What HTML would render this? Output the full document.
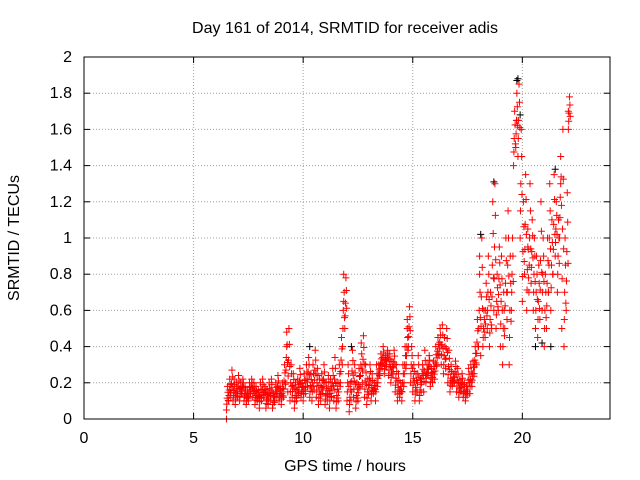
<!DOCTYPE html>
<html><head><meta charset="utf-8"><style>
html,body{margin:0;padding:0;background:#fff;}
svg{display:block;font-family:"Liberation Sans",Arial,sans-serif;font-size:16px;}
</style></head><body>
<svg id="chart" width="640" height="480" viewBox="0 0 640 480">
<rect x="0" y="0" width="640" height="480" fill="#fff"/>
<text x="345" y="33" text-anchor="middle" fill="#000">Day 161 of 2014, SRMTID for receiver adis</text>
<text x="345" y="471" text-anchor="middle" fill="#000">GPS time / hours</text>
<text x="0" y="0" transform="translate(19,238) rotate(-90)" text-anchor="middle" fill="#000">SRMTID / TECUs</text>
<g id="grid"></g>
<g id="ticks"></g>
<g id="marks"></g>
<rect x="84" y="57" width="526" height="362" fill="none" stroke="#000" stroke-width="1"/>
</svg>
<script>
const xTicks=[0,5,10,15,20];
const yTicks=[0,0.2,0.4,0.6,0.8,1,1.2,1.4,1.6,1.8,2];
const yTickLabels=["0","0.2","0.4","0.6","0.8","1","1.2","1.4","1.6","1.8","2"];
const times=[6.5,6.6,6.7,6.8,6.9,7.0,7.1,7.2,7.3,7.4,7.5,7.6,7.7,7.8,7.9,8.0,8.1,8.2,8.3,8.4,8.5,8.6,8.7,8.8,8.9,9.0,9.1,9.2,9.3,9.4,9.5,9.6,9.7,9.8,9.9,10.0,10.1,10.2,10.3,10.4,10.5,10.6,10.7,10.8,10.9,11.0,11.1,11.2,11.3,11.4,11.5,11.6,11.7,11.8,11.9,12.0,12.1,12.2,12.3,12.4,12.5,12.6,12.7,12.8,12.9,13.0,13.1,13.2,13.3,13.4,13.5,13.6,13.7,13.8,13.9,14.0,14.1,14.2,14.3,14.4,14.5,14.6,14.7,14.8,14.9,15.0,15.1,15.2,15.3,15.4,15.5,15.6,15.7,15.8,15.9,16.0,16.1,16.2,16.3,16.4,16.5,16.6,16.7,16.8,16.9,17.0,17.1,17.2,17.3,17.4,17.5,17.6,17.7,17.8,17.9,18.0,18.1,18.2,18.3,18.4,18.5,18.6,18.7,18.8,18.9,19.0,19.1,19.2,19.3,19.4,19.5,19.6,19.7,19.8,19.9,20.0,20.1,20.2,20.3,20.4,20.5,20.6,20.7,20.8,20.9,21.0,21.1,21.2,21.3,21.4,21.5,21.6,21.7,21.8,21.9,22.0,22.1];
const lowVals=[0.05,0.1,0.12,0.1,0.08,0.12,0.1,0.14,0.1,0.08,0.1,0.14,0.12,0.08,0.1,0.06,0.1,0.12,0.06,0.08,0.1,0.06,0.1,0.12,0.1,0.08,0.12,0.2,0.15,0.1,0.12,0.06,0.1,0.14,0.12,0.1,0.14,0.18,0.12,0.1,0.16,0.12,0.08,0.1,0.14,0.08,0.1,0.06,0.12,0.1,0.06,0.1,0.2,0.4,0.5,0.1,0.04,0.15,0.12,0.06,0.1,0.18,0.2,0.12,0.08,0.15,0.1,0.14,0.1,0.2,0.25,0.28,0.25,0.3,0.24,0.2,0.25,0.15,0.1,0.12,0.1,0.2,0.3,0.4,0.2,0.15,0.1,0.15,0.1,0.2,0.15,0.2,0.25,0.18,0.2,0.22,0.3,0.35,0.3,0.25,0.28,0.2,0.15,0.18,0.2,0.15,0.12,0.15,0.12,0.1,0.15,0.14,0.18,0.25,0.3,0.4,0.35,0.4,0.45,0.5,0.4,0.5,0.6,0.5,0.6,0.4,0.3,0.5,0.55,0.3,0.6,1.4,1.5,1.45,1.0,0.65,0.8,0.6,0.7,0.75,0.6,0.5,0.45,0.55,0.6,0.4,0.5,0.7,0.6,0.8,0.9,0.7,1.0,0.5,0.4,0.6,1.6];
const highVals=[0.18,0.22,0.27,0.22,0.2,0.24,0.2,0.22,0.18,0.16,0.2,0.22,0.2,0.18,0.16,0.2,0.22,0.18,0.16,0.2,0.22,0.14,0.2,0.24,0.18,0.2,0.3,0.48,0.5,0.3,0.25,0.2,0.22,0.28,0.2,0.25,0.3,0.34,0.25,0.3,0.38,0.28,0.22,0.25,0.3,0.2,0.24,0.22,0.28,0.34,0.2,0.3,0.45,0.8,0.78,0.3,0.2,0.38,0.3,0.2,0.28,0.42,0.46,0.3,0.22,0.3,0.25,0.2,0.3,0.3,0.36,0.4,0.35,0.38,0.36,0.32,0.38,0.3,0.25,0.2,0.3,0.4,0.5,0.62,0.4,0.3,0.25,0.35,0.22,0.3,0.38,0.3,0.35,0.28,0.32,0.4,0.45,0.5,0.52,0.45,0.5,0.38,0.3,0.25,0.32,0.28,0.22,0.25,0.2,0.18,0.28,0.3,0.32,0.4,0.55,0.8,1.0,0.6,0.75,0.9,0.7,1.2,1.3,0.8,0.95,0.9,0.7,1.0,1.15,0.9,1.0,1.7,1.8,1.85,1.6,1.2,1.35,1.05,1.3,1.1,1.0,0.9,0.85,1.2,1.0,0.8,1.0,1.3,1.1,1.35,1.2,1.1,1.45,1.6,1.0,1.25,1.78];
const extraTimes=[6.5,9.25,11.85,14.75,18.05,19.75,20.25,21.75,22.1];
const extraVals=[0.0,0.4,0.65,0.55,0.9,1.65,0.95,1.3,1.7];
const blackTimes=[19.8,19.75,18.1,20.6,21.3,10.3,12.2,21.5,18.7,19.9,20.9];
const blackVals=[1.88,1.87,1.02,0.4,0.4,0.4,0.4,1.38,1.31,1.68,0.42];

const X0=84,X1=610,Y0=419,Y1=57;
function sx(v){return X0+(v/24)*(X1-X0);}
function sy(v){return Y0-(v/2)*(Y0-Y1);}
const NS="http://www.w3.org/2000/svg";
const grid=document.getElementById('grid'),ticks=document.getElementById('ticks'),marks=document.getElementById('marks');
function mk(tag,attrs,parent){const e=document.createElementNS(NS,tag);for(const k in attrs)e.setAttribute(k,attrs[k]);parent.appendChild(e);return e;}
xTicks.forEach(function(t){
  const x=sx(t);
  if(t>0){const g=mk('line',{x1:x,y1:Y0,x2:x,y2:Y1,stroke:'#a0a0a0','stroke-dasharray':'1,2'},grid);
  
  }
  const a=mk('line',{x1:x,y1:Y0,x2:x,y2:Y0-6,stroke:'#000'},ticks);
  
  
  const b=mk('line',{x1:x,y1:Y1,x2:x,y2:Y1+6,stroke:'#000'},ticks);
  
  
  const l=mk('text',{x:x,y:443,'text-anchor':'middle',fill:'#000'},ticks);l.textContent=String(t);
  
  
});
yTicks.forEach(function(t,i){
  const y=sy(t);
  if(t>0&&t<2){const g=mk('line',{x1:X0,y1:y,x2:X1,y2:y,stroke:'#a0a0a0','stroke-dasharray':'1,2'},grid);
  
  }
  const a=mk('line',{x1:X0,y1:y,x2:X0+6,y2:y,stroke:'#000'},ticks);
  
  
  const b=mk('line',{x1:X1,y1:y,x2:X1-6,y2:y,stroke:'#000'},ticks);
  
  
  const l=mk('text',{x:72,y:y+5,'text-anchor':'end',fill:'#000'},ticks);l.textContent=yTickLabels[i];
  
  
});
function plus(t,v,color,name){
  const x=sx(t),y=sy(v);
  const p=mk('path',{d:'M'+(x-3.5)+' '+y+'H'+(x+3.5)+'M'+x+' '+(y-3.5)+'V'+(y+3.5),stroke:color,'stroke-width':1,fill:'none'},marks);
  
  
}
blackTimes.forEach(function(t,i){plus(t,blackVals[i],'#000','point-black');});
times.forEach(function(t,i){
  const lo=lowVals[i],hi=highVals[i],d=hi-lo;
  plus(t,lo,'#f00','point-red');
  plus(t+0.05,hi,'#f00','point-red');
  plus(t+0.03,lo+d*0.5,'#f00','point-red');
  plus(t+0.015,lo+d*0.25,'#f00','point-red');
  plus(t+0.07,lo+d*0.75,'#f00','point-red');
  plus(t+0.085,lo+d*0.4,'#f00','point-red');
});
extraTimes.forEach(function(t,i){plus(t,extraVals[i],'#f00','point-red');});
</script>
</body></html>
